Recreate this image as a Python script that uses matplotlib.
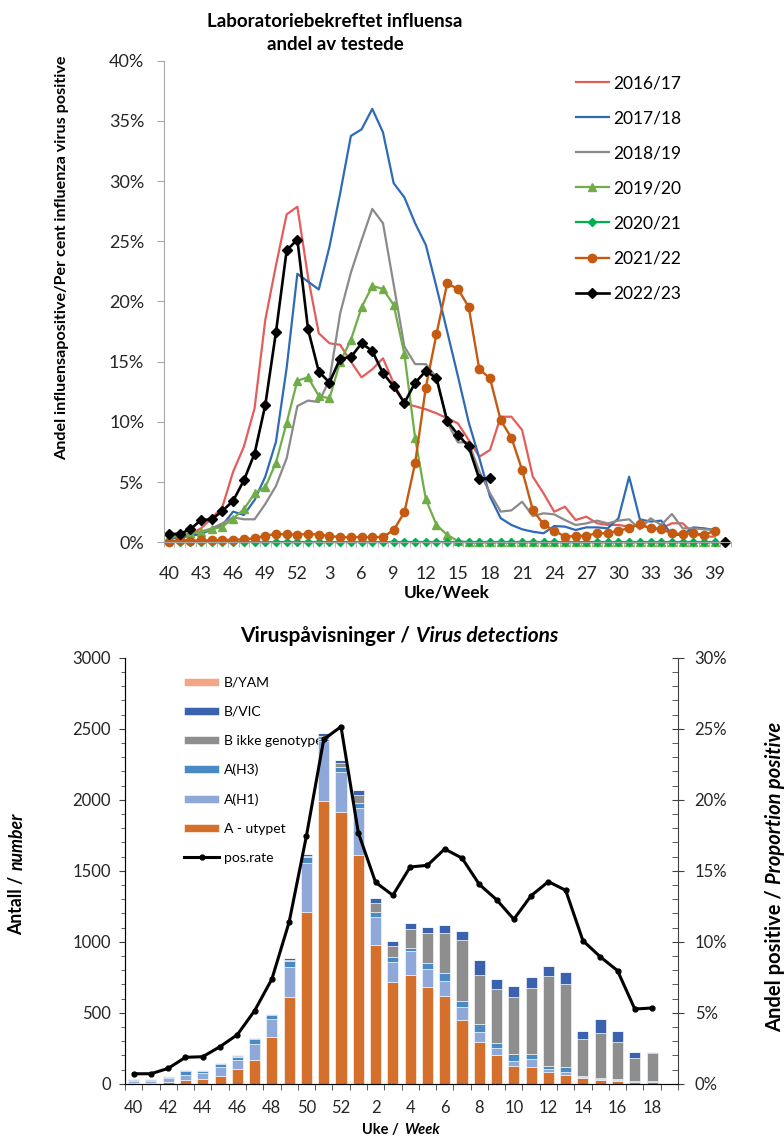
import matplotlib; matplotlib.use("Agg")
import matplotlib.pyplot as plt
import numpy as np
from matplotlib.ticker import FuncFormatter, MultipleLocator

plt.rcParams.update({"font.family": ["Lato", "DejaVu Sans"], "font.size": 12,
    "axes.spines.top": False, "axes.spines.right": False})

# ---- øvre figur: andel positive per uke, sesong 2016/17 - 2022/23
weeks_top = list(range(40, 53)) + list(range(1, 41))   # 53 kategorier (uke 40 - uke 40)

s1617 = [0.42, 0.5, 0.69, 1.16, 2.0, 2.96, 5.87, 7.94, 11.13, 18.46, 23.0, 27.24, 27.87,
         22.0, 17.36, 16.53, 16.4, 15.0, 13.7, 14.37, 15.28, 13.2, 11.54, 11.3, 11.05,
         10.71, 10.3, 9.88, 8.5, 7.11, 7.67, 10.43, 10.43, 9.33, 5.45, 4.07, 2.54, 2.96,
         1.85, 2.13, 1.58, 1.44, 1.44, 1.30, 1.44, 1.16, 1.16, 1.58, 1.58, 0.75, 0.47, 0.47]
s1718 = [0.33, 0.39, 0.53, 0.69, 1.08, 1.44, 2.55, 2.27, 3.51, 5.45, 8.36, 14.5, 22.3,
         21.65, 21.0, 24.55, 28.99, 33.75, 34.3, 36.0, 34.05, 29.82, 28.65, 26.5, 24.7,
         21.2, 17.5, 13.8, 10.0, 7.0, 3.8, 2.0, 1.44, 1.08, 0.88, 0.75, 1.35, 1.30, 1.02,
         1.24, 1.24, 1.16, 1.99, 5.45, 1.91, 1.72, 1.80, 0.61, 0.61, 1.24, 1.16, 1.02]
s1819 = [0.42, 0.53, 0.69, 0.88, 1.16, 1.58, 2.08, 1.91, 1.91, 3.18, 4.68, 6.98, 11.32,
         11.77, 11.65, 13.48, 19.02, 22.4, 25.1, 27.69, 26.5, 21.4, 16.25, 14.8, 14.8,
         13.7, 9.95, 8.3, 8.3, 5.9, 4.07, 2.55, 2.65, 3.37, 2.18, 2.41, 2.32, 1.85, 1.44,
         1.57, 1.80, 1.57, 1.80, 1.91, 1.08, 1.99, 1.44, 2.35, 1.16, 1.16, 1.08, 1.02]
s1920 = [0.45, 0.55, 0.75, 0.88, 1.08, 1.30, 1.97, 2.74, 4.07, 4.57, 6.62, 9.94, 13.43,
         13.70, 12.15, 11.96, 15.0, 16.80, 19.52, 21.29, 21.04, 19.71, 15.64, 8.68, 3.58,
         1.44, 0.62, 0.1] + [0.0] * 24
s2021 = [0.0] * 52
s2122 = [0.05, 0.19, 0.14, 0.16, 0.16, 0.19, 0.22, 0.25, 0.33, 0.55, 0.69, 0.66, 0.64,
         0.69, 0.64, 0.53, 0.42, 0.42, 0.44, 0.42, 0.44, 1.02, 2.49, 6.56, 12.85, 17.30,
         21.51, 21.04, 19.57, 14.37, 13.62, 10.13, 8.69, 6.00, 2.68, 1.49, 0.97, 0.47,
         0.52, 0.55, 0.75, 0.75, 0.97, 1.16, 1.52, 1.16, 1.08, 0.75, 0.69, 0.75, 0.61, 0.97]
# 2022/23 = pos.rate i nedre figur, uke 40 - uke 18
posrate = [0.70, 0.70, 1.08, 1.86, 1.90, 2.61, 3.45, 5.14, 7.37, 11.39, 17.46, 24.25,
           25.14, 17.68, 14.18, 13.27, 15.26, 15.38, 16.53, 15.89, 14.04, 12.96, 11.58,
           13.24, 14.23, 13.62, 10.07, 8.94, 7.96, 5.26, 5.33]
s2223_end = 0.0   # siste punkt (uke 40) i regnearket

# ---- nedre figur: viruspåvisninger per uke 2022/23
weeks_bot = list(range(40, 53)) + list(range(1, 20))   # 32 kategorier, siste tom
a_utypet = [8, 8, 15, 26, 33, 52, 106, 169, 327, 613, 1209, 1990, 1916, 1608, 977, 714,
            763, 681, 618, 451, 296, 202, 127, 120, 82, 59, 38, 26, 19, 12, 12]
a_h1 = [12, 10, 25, 37, 42, 66, 61, 110, 129, 211, 347, 420, 281, 331, 199, 143, 171,
        127, 107, 91, 68, 49, 31, 56, 24, 26, 9, 7, 7, 2, 2]
a_h3 = [8, 8, 8, 24, 17, 21, 21, 33, 25, 42, 38, 15, 33, 36, 31, 35, 24, 42, 57, 40,
        56, 38, 51, 33, 21, 30, 9, 9, 9, 5, 2]
b_ikke = [1, 1, 3, 3, 3, 2, 9, 4, 4, 8, 8, 25, 28, 58, 68, 78, 131, 213, 279, 430, 346,
          376, 404, 465, 629, 587, 259, 315, 259, 162, 200]
b_vic = [5, 5, 3, 6, 5, 3, 5, 6, 6, 9, 16, 20, 19, 37, 33, 37, 41, 43, 59, 63, 103, 70,
         75, 75, 75, 85, 54, 101, 75, 44, 7]
b_yam = [0] * 31


def pad(v, n=53):
    return np.array(list(v) + [np.nan] * (n - len(v)), dtype=float)

W, H = 784, 1140
fig = plt.figure(figsize=(W / 100, H / 100), dpi=100)

def box(l, r, t, b):
    return [l / W, 1 - b / H, (r - l) / W, (b - t) / H]

# ======================= øvre figur
ax1 = fig.add_axes(box(163.6, 730.8, 60.7, 542.3))
xt = np.arange(53)
ax1.plot(xt, pad(s1617), color="#E35D5B", lw=1.6, label="2016/17", clip_on=False)
ax1.plot(xt, pad(s1718), color="#2E6BB5", lw=1.6, label="2017/18", clip_on=False)
ax1.plot(xt, pad(s1819), color="#8A8A8A", lw=1.6, label="2018/19", clip_on=False)
ax1.plot(xt, pad(s1920), color="#70AD47", lw=1.6, marker="^", ms=6, label="2019/20", clip_on=False)
ax1.plot(xt, pad(s2021), color="#00B050", lw=1.6, marker="D", ms=4.3, label="2020/21", clip_on=False)
ax1.plot(xt, pad(s2122), color="#C55A11", lw=1.7, marker="o", ms=6, label="2021/22", clip_on=False)
s2223 = pad(posrate); s2223[-1] = s2223_end
ax1.plot(xt, s2223, color="black", lw=1.9, marker="D", ms=4.8, label="2022/23", clip_on=False)

ax1.set_xlim(-0.5, 52.5); ax1.set_ylim(0, 40)
ax1.set_yticks(range(0, 41, 5))
ax1.yaxis.set_major_formatter(FuncFormatter(lambda v, p: f"{v:.0f}%"))
ax1.set_xticks(np.arange(0, 52, 3))
ax1.set_xticklabels([weeks_top[i] for i in range(0, 52, 3)])
ax1.set_xticks(np.arange(-0.5, 53, 1), minor=True)
for s in ("left", "bottom"):
    ax1.spines[s].set_color("#A6A6A6")
ax1.tick_params(axis="x", which="major", length=0, pad=17, labelsize=13, labelcolor="#262626")
ax1.tick_params(axis="x", which="minor", length=3.5, color="#A6A6A6")
ax1.tick_params(axis="y", length=5, color="#A6A6A6", pad=9, labelsize=13, labelcolor="#262626")
ax1.legend(loc="upper left", bbox_to_anchor=(0.727, 0.970), frameon=False, fontsize=12.5,
           handlelength=1.9, handletextpad=0.25, labelspacing=1.1, borderpad=0,
           borderaxespad=0, numpoints=1)

fig.text(335 / W, 1 - 33 / H, "Laboratoriebekreftet influensa\nandel av testede",
         ha="center", va="center", fontsize=13.5, fontweight="bold", linespacing=1.45)
fig.text(62 / W, 1 - 258 / H, "Andel influensapositive/Per cent influenza virus positive",
         rotation=90, ha="center", va="center", fontsize=11.6, fontweight="bold")
fig.text(447 / W, 1 - 593 / H, "Uke/Week", ha="center", va="center",
         fontsize=12.5, fontweight="bold")

# ======================= nedre figur
ax3 = fig.add_axes(box(125, 678, 657.7, 1083.7))
xb = np.arange(len(a_utypet))
stack = [(a_utypet, "#D4702C", "A - utypet"), (a_h1, "#8FA8DA", "A(H1)"),
         (a_h3, "#4A8AC4", "A(H3)"), (b_ikke, "#8E8E8E", "B ikke genotype"),
         (b_vic, "#3A62AF", "B/VIC"), (b_yam, "#F3A586", "B/YAM")]
bottom = np.zeros(len(xb))
bars = {}
for vals, col, lab in stack:
    bars[lab] = ax3.bar(xb, vals, 0.64, bottom=bottom, color=col, edgecolor="white",
                        linewidth=0.4, label=lab, zorder=2)
    bottom += np.array(vals)

ax3.set_xlim(-0.5, 31.5); ax3.set_ylim(0, 3000)
ax3.set_yticks(range(0, 3001, 500))
ax3.yaxis.set_minor_locator(MultipleLocator(100))
ax3.set_xticks(np.arange(0, 31, 2))
ax3.set_xticklabels([weeks_bot[i] for i in range(0, 31, 2)])
ax3.set_xticks(np.arange(-0.5, 32, 1), minor=True)
for s in ("left", "bottom"):
    ax3.spines[s].set_color("#404040")
ax3.tick_params(axis="x", which="major", length=0, pad=12, labelsize=12, labelcolor="#262626")
ax3.tick_params(axis="x", which="minor", length=4.3, color="#404040")
ax3.tick_params(axis="y", which="major", length=4, color="#404040", pad=6, labelsize=12,
                labelcolor="#262626")
ax3.tick_params(axis="y", which="minor", length=2.8, color="#404040")

ax2 = ax3.twinx()
ax2.spines["right"].set_visible(True); ax2.spines["right"].set_color("#404040")
ax2.spines["top"].set_visible(False)
ln, = ax2.plot(np.arange(len(posrate)), posrate, color="black", lw=2.2, marker="o", ms=3.5,
               label="pos.rate")
ax2.set_ylim(0, 30)
ax2.set_yticks(range(0, 31, 5))
ax2.yaxis.set_minor_locator(MultipleLocator(1))
ax2.yaxis.set_major_formatter(FuncFormatter(lambda v, p: f"{v:.0f}%"))
ax2.tick_params(axis="y", which="major", direction="inout", length=8, color="#404040",
                pad=8, labelsize=12, labelcolor="#262626")
ax2.tick_params(axis="y", which="minor", direction="in", length=4.5, color="#404040")

order = ["B/YAM", "B/VIC", "B ikke genotype", "A(H3)", "A(H1)", "A - utypet"]
leg = ax3.legend([bars[k] for k in order] + [ln], order + ["pos.rate"], loc="upper left",
                 bbox_to_anchor=(0.107, 0.955), frameon=False, fontsize=10,
                 handlelength=2.5, handleheight=0.5, handletextpad=0.35, labelspacing=1.22,
                 borderpad=0, borderaxespad=0)
leg.set_zorder(1)

# titler med kursiv del
t1 = fig.text(240 / W, 1 - 636 / H, "Viruspåvisninger /", ha="left", va="center",
              fontsize=15, fontweight="bold")
ax3.annotate("Virus detections", xy=(1, 0), xycoords=t1, xytext=(4, 0),
             textcoords="offset points", ha="left", va="bottom", fontsize=15,
             fontweight="bold", style="italic")
t2 = fig.text(17 / W, 1 - 935 / H, "Antall /", rotation=90, ha="center", va="bottom",
              fontsize=12.7, fontweight="bold")
ax3.annotate("number", xy=(0.5, 1), xycoords=t2, xytext=(0, 4), textcoords="offset points",
             rotation=90, ha="center", va="bottom", fontsize=12.7, fontweight="bold",
             style="italic")
t3 = fig.text(775 / W, 1 - 1032 / H, "Andel positive /", rotation=90, ha="center",
              va="bottom", fontsize=14.5, fontweight="bold")
ax3.annotate("Proportion positive", xy=(0.5, 1), xycoords=t3, xytext=(0, 4),
             textcoords="offset points", rotation=90, ha="center", va="bottom",
             fontsize=14.5, fontweight="bold", style="italic")
t4 = fig.text(362 / W, 1 - 1130 / H, "Uke /", ha="left", va="center", fontsize=10.5,
              fontweight="bold")
ax3.annotate("Week", xy=(1, 0), xycoords=t4, xytext=(4, 0), textcoords="offset points",
             ha="left", va="bottom", fontsize=10.5, fontweight="bold", style="italic")

fig.savefig("out.png", dpi=100)
